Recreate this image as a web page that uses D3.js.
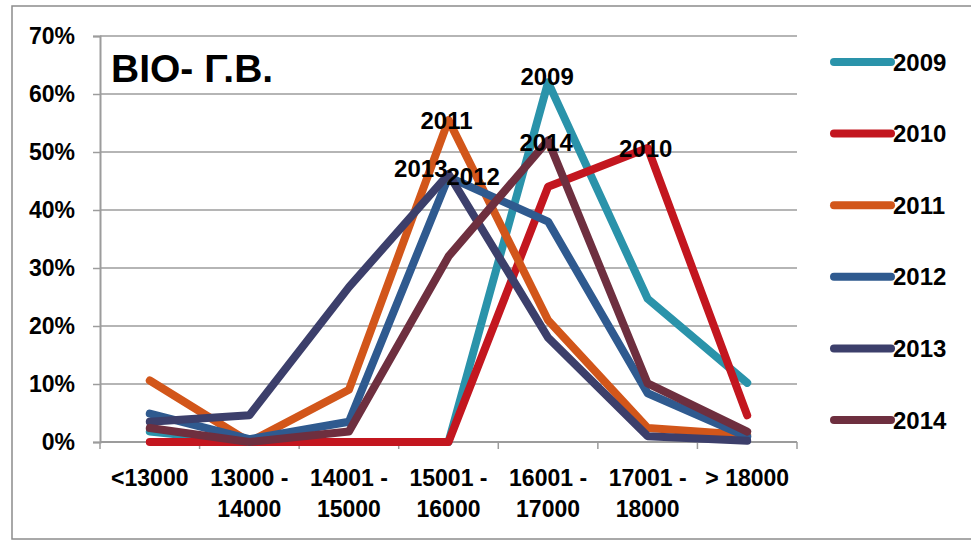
<!DOCTYPE html>
<html>
<head>
<meta charset="utf-8">
<script src="https://cdn.jsdelivr.net/npm/d3@7"></script>
<style>
  html, body { margin: 0; padding: 0; background: #fff; }
  svg { display: block; }
  text { font-family: "Liberation Sans", Arial, sans-serif; font-weight: bold; fill: #000; }
</style>
</head>
<body>
<svg id="chart" width="971" height="541"></svg>
<script>
// ---- data ----
const categories = ["<13000", "13000 - 14000", "14001 - 15000", "15001 - 16000", "16001 - 17000", "17001 - 18000", "> 18000"];
const categoryLines = [["<13000"], ["13000 -", "14000"], ["14001 -", "15000"], ["15001 -", "16000"], ["16001 -", "17000"], ["17001 -", "18000"], ["> 18000"]];
const seriesNames = ["2009", "2010", "2011", "2012", "2013", "2014"];
const v2009 = [0.018, 0.0, 0.0, 0.0, 0.62, 0.247, 0.102];
const v2010 = [0.0, 0.0, 0.0, 0.0, 0.44, 0.507, 0.046];
const v2011 = [0.106, 0.0, 0.09, 0.555, 0.21, 0.024, 0.012];
const v2012 = [0.049, 0.005, 0.035, 0.457, 0.38, 0.084, 0.009];
const v2013 = [0.035, 0.046, 0.267, 0.462, 0.18, 0.01, 0.002];
const v2014 = [0.024, 0.0, 0.018, 0.32, 0.52, 0.101, 0.018];
const seriesValues = [v2009, v2010, v2011, v2012, v2013, v2014];
const yTicks = [0, 0.1, 0.2, 0.3, 0.4, 0.5, 0.6, 0.7];
const title = "ΒΙΟ- Γ.Β.";
// data labels: which series, at which category
const labelSeries = [0, 1, 2, 3, 4, 5];
const labelCategory = [4, 5, 3, 3, 3, 4];

// ---- styles / layout ----
const colors = ["#2A93AA", "#C3161F", "#D2561A", "#2F5A8F", "#3C3F6B", "#6E2F3F"];
const labelAnchor = ["middle", "middle", "middle", "start", "end", "middle"];
const labelDy = [3, 9, 9, 8, 3, 11];
const labelDx = [-1, -2, -2, -2, -1, -2];

const svg = d3.select("#chart");
const plot = { left: 100, right: 797, top: 36, bottom: 442 };
const gridColor = "#9c9c9c";

// outer border
svg.append("rect").attr("x", 12).attr("y", 6).attr("width", 990).attr("height", 533)
  .attr("fill", "#fff").attr("stroke", "#8c8c8c").attr("stroke-width", 1.5);

const x = d3.scaleBand().domain(categories).range([plot.left, plot.right]).padding(0);
const y = d3.scaleLinear().domain([0, 0.7]).range([plot.bottom, plot.top]);

// gridlines
svg.append("g").selectAll("line").data(yTicks.filter(t => t > 0)).join("line")
  .attr("x1", plot.left).attr("x2", plot.right)
  .attr("y1", d => y(d)).attr("y2", d => y(d))
  .attr("stroke", gridColor).attr("stroke-width", 1.5);

// y axis
const yAxis = d3.axisLeft(y).tickValues(yTicks).tickFormat(d3.format(".0%")).tickSize(7).tickPadding(18);
const gy = svg.append("g").attr("transform", `translate(${plot.left},0)`).call(yAxis);
gy.select(".domain").attr("stroke", gridColor).attr("stroke-width", 2);
gy.selectAll(".tick line").attr("stroke", gridColor).attr("stroke-width", 1.5);
gy.selectAll(".tick text").style("font-family", "Liberation Sans, Arial, sans-serif")
  .style("font-weight", "bold").style("font-size", "23px").attr("fill", "#000");

// x axis line and ticks at band boundaries
svg.append("line").attr("x1", plot.left).attr("x2", plot.right)
  .attr("y1", plot.bottom).attr("y2", plot.bottom)
  .attr("stroke", gridColor).attr("stroke-width", 2);
const bounds = categories.map(c => x(c)).concat([plot.right]);
svg.append("g").selectAll("line").data(bounds).join("line")
  .attr("x1", d => d).attr("x2", d => d)
  .attr("y1", plot.bottom).attr("y2", plot.bottom + 7)
  .attr("stroke", gridColor).attr("stroke-width", 1.5);

// x labels
const xl = svg.append("g").selectAll("text").data(categories).join("text")
  .attr("x", d => x(d) + x.bandwidth() / 2)
  .attr("y", 486)
  .attr("text-anchor", "middle")
  .style("font-size", "23px");
xl.each(function (d, i) {
  const t = d3.select(this);
  categoryLines[i].forEach((ln, j) => {
    t.append("tspan").attr("x", x(d) + x.bandwidth() / 2).attr("dy", j === 0 ? 0 : 31).text(ln);
  });
});

// lines
const line = d3.line()
  .x((d, i) => x(categories[i]) + x.bandwidth() / 2)
  .y(d => y(d));
svg.append("g").selectAll("path").data(seriesValues).join("path")
  .attr("d", d => line(d))
  .attr("fill", "none")
  .attr("stroke", (d, i) => colors[i])
  .attr("stroke-width", 8)
  .attr("stroke-linejoin", "round")
  .attr("stroke-linecap", "round");

// data labels
svg.append("g").selectAll("text").data(labelSeries).join("text")
  .attr("x", (s, k) => x(categories[labelCategory[k]]) + x.bandwidth() / 2 + labelDx[k])
  .attr("y", (s, k) => y(seriesValues[s][labelCategory[k]]) + labelDy[k])
  .attr("text-anchor", (s, k) => labelAnchor[k])
  .style("font-size", "24px")
  .text(s => seriesNames[s]);

// title
svg.append("text").attr("x", 111).attr("y", 82).style("font-size", "39px").text(title);

// legend
const legendY0 = 62, legendStep = 71.6;
const lg = svg.append("g").selectAll("g").data(seriesNames).join("g")
  .attr("transform", (d, i) => `translate(0,${legendY0 + i * legendStep})`);
lg.append("line").attr("x1", 834).attr("x2", 891).attr("y1", 0).attr("y2", 0)
  .attr("stroke", (d, i) => colors[i]).attr("stroke-width", 8).attr("stroke-linecap", "round");
lg.append("text").attr("x", 893).attr("y", 8.5).style("font-size", "24px").text(d => d);
</script>
</body>
</html>
